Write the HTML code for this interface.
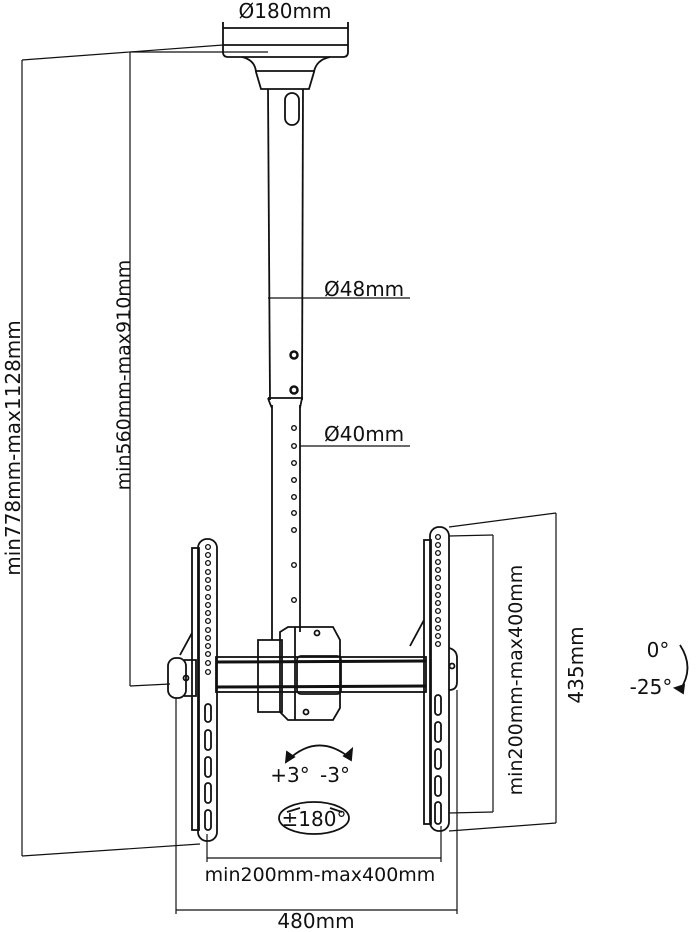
<!DOCTYPE html>
<html><head><meta charset="utf-8"><style>
html,body{margin:0;padding:0;background:#fff;}
svg{display:block;}
text{font-family:"DejaVu Sans","Liberation Sans",sans-serif;fill:#111;}
</style></head><body>
<svg width="697" height="932" viewBox="0 0 697 932" xmlns="http://www.w3.org/2000/svg">
<g fill="none" stroke="#111" stroke-width="1.8">
<!-- ceiling plate -->
<path d="M223 22 V52 Q223 57 228 57 H343 Q348 57 348 52 V22"/>
<line x1="223" y1="28" x2="348" y2="28"/>
<line x1="223" y1="45" x2="348" y2="45"/>
<path d="M242 57 Q255 60 256 72 L261 89 H309 L314 72 Q316 60 330 57"/>
<line x1="256" y1="71" x2="315" y2="71"/>
<!-- upper tube -->
<line x1="268" y1="89" x2="270" y2="400"/>
<line x1="303" y1="89" x2="302" y2="400"/>
<rect x="285" y="93" width="14" height="32" rx="7"/>
<path d="M268 398 Q270 404 272 408 M302 398 L300 408"/>
<line x1="268" y1="398" x2="303" y2="398"/>
<circle cx="294" cy="355" r="3.5" stroke-width="2.5"/><circle cx="294" cy="390" r="3.5" stroke-width="2.5"/>
<!-- lower tube -->
<line x1="272" y1="405" x2="272" y2="640"/>
<line x1="300" y1="405" x2="300" y2="632"/>
<g stroke-width="1.4">
<circle cx="294" cy="428" r="2.3"/><circle cx="294" cy="446" r="2.3"/><circle cx="294" cy="463" r="2.3"/>
<circle cx="294" cy="480" r="2.3"/><circle cx="294" cy="497" r="2.3"/><circle cx="294" cy="513" r="2.3"/>
<circle cx="294" cy="530" r="2.3"/><circle cx="294" cy="565" r="2.3"/><circle cx="294" cy="600" r="2.3"/>
</g>
<!-- crossbar -->
<rect x="216" y="657" width="210" height="35"/>
<line x1="216" y1="662" x2="426" y2="661" stroke-width="3"/>
<line x1="216" y1="687" x2="426" y2="686" stroke-width="3"/>
<!-- clamp -->
<path d="M258 640 H282 V712 H258 Z"/>
<path d="M280 632 L288 627 H333 L340 640 V708 L333 720 H288 L280 712 Z"/>
<line x1="295" y1="627" x2="295" y2="720"/>
<rect x="297" y="656" width="44" height="38" rx="4"/>
<circle cx="317" cy="633" r="2.5"/><circle cx="306" cy="712" r="2.5"/>
<!-- left bracket -->
<rect x="192" y="548" width="7" height="282"/>
<rect x="198" y="539" width="19" height="302" rx="9"/>
<g stroke-width="1.3">
<circle cx="208" cy="547" r="2.4"/><circle cx="208" cy="555" r="2.4"/><circle cx="208" cy="563" r="2.4"/><circle cx="208" cy="572" r="2.4"/><circle cx="208" cy="580" r="2.4"/><circle cx="208" cy="588" r="2.4"/><circle cx="208" cy="597" r="2.4"/><circle cx="208" cy="605" r="2.4"/><circle cx="208" cy="613" r="2.4"/><circle cx="208" cy="621" r="2.4"/><circle cx="208" cy="630" r="2.4"/><circle cx="208" cy="638" r="2.4"/><circle cx="208" cy="646" r="2.4"/><circle cx="208" cy="654" r="2.4"/><circle cx="208" cy="663" r="2.4"/><circle cx="208" cy="672" r="2.4"/>
</g>
<rect x="205" y="704" width="6" height="18" rx="3"/><rect x="205" y="730" width="6" height="20" rx="3"/><rect x="205" y="757" width="6" height="20" rx="3"/><rect x="205" y="783" width="6" height="20" rx="3"/><rect x="205" y="810" width="6" height="20" rx="3"/>
<path d="M192 633 L180 655"/>
<rect x="168" y="658" width="18" height="40" rx="8"/>
<path d="M184 660 H196 V696 H184"/>
<circle cx="186" cy="678" r="2.5"/>
<!-- right bracket -->
<rect x="424" y="540" width="7" height="284"/>
<rect x="430" y="527" width="19" height="304" rx="9"/>
<g stroke-width="1.3">
<circle cx="438" cy="537" r="2.4"/><circle cx="438" cy="545" r="2.4"/><circle cx="438" cy="553" r="2.4"/><circle cx="438" cy="562" r="2.4"/><circle cx="438" cy="570" r="2.4"/><circle cx="438" cy="578" r="2.4"/><circle cx="438" cy="587" r="2.4"/><circle cx="438" cy="595" r="2.4"/><circle cx="438" cy="603" r="2.4"/><circle cx="438" cy="611" r="2.4"/><circle cx="438" cy="620" r="2.4"/><circle cx="438" cy="628" r="2.4"/><circle cx="438" cy="636" r="2.4"/><circle cx="438" cy="644" r="2.4"/>
</g>
<rect x="435" y="695" width="6" height="20" rx="3"/><rect x="435" y="722" width="6" height="20" rx="3"/><rect x="435" y="749" width="6" height="20" rx="3"/><rect x="435" y="776" width="6" height="20" rx="3"/><rect x="435" y="802" width="6" height="22" rx="3"/>
<path d="M424 620 L410 646"/>
<path d="M449 648 Q457 650 457 658 V682 Q457 690 449 690"/>
<circle cx="452" cy="666" r="2.5"/>
<!-- dimension lines -->
<g stroke-width="1.2">
<line x1="22" y1="60" x2="223" y2="45"/>
<line x1="22" y1="60" x2="22" y2="856"/>
<line x1="22" y1="856" x2="200" y2="844"/>
<line x1="130" y1="52" x2="268" y2="52"/>
<line x1="130" y1="52" x2="130" y2="686"/>
<line x1="130" y1="686" x2="170" y2="684"/>
<line x1="268" y1="298" x2="410" y2="298"/>
<line x1="300" y1="446" x2="410" y2="446"/>
<line x1="449" y1="536" x2="493" y2="535"/>
<line x1="493" y1="535" x2="493" y2="812"/>
<line x1="449" y1="813" x2="493" y2="812"/>
<line x1="449" y1="527" x2="556" y2="513"/>
<line x1="556" y1="513" x2="556" y2="823"/>
<line x1="449" y1="831" x2="556" y2="823"/>
<line x1="207" y1="834" x2="207" y2="862"/>
<line x1="441" y1="826" x2="441" y2="862"/>
<line x1="207" y1="858" x2="441" y2="858"/>
<line x1="176" y1="698" x2="176" y2="914"/>
<line x1="457" y1="690" x2="457" y2="914"/>
<line x1="176" y1="910" x2="457" y2="910"/>
<line x1="223" y1="22" x2="223" y2="30"/><line x1="348" y1="22" x2="348" y2="30"/>
</g>
<!-- rotation arcs -->
<path d="M288 760 Q318 732 350 758"/>
<path d="M287 752 L286 762 L294 757 Z" fill="#111"/>
<path d="M352 749 L351 760 L344 756 Z" fill="#111"/>
<ellipse cx="314" cy="818" rx="35" ry="16"/>
<path d="M287 812 L300 808 M330 808 L342 812"/>
<path d="M680 645 Q695 668 680 690"/>
<path d="M675 688 L683 693 L684 685 Z" fill="#111"/>
</g>
<g font-size="20">
<text x="285" y="18" text-anchor="middle">Ø180mm</text>
<text x="324" y="296">Ø48mm</text>
<text x="324" y="441">Ø40mm</text>
<text transform="translate(20,448) rotate(-90)" text-anchor="middle">min778mm-max1128mm</text>
<text transform="translate(130,375) rotate(-90)" text-anchor="middle" font-size="19">min560mm-max910mm</text>
<text transform="translate(522,680) rotate(-90)" text-anchor="middle" font-size="19">min200mm-max400mm</text>
<text transform="translate(583,665) rotate(-90)" text-anchor="middle">435mm</text>
<text x="320" y="881" text-anchor="middle" font-size="19">min200mm-max400mm</text>
<text x="316" y="928" text-anchor="middle">480mm</text>
<text x="290" y="782" text-anchor="middle">+3°</text>
<text x="335" y="782" text-anchor="middle">-3°</text>
<text x="314" y="826" text-anchor="middle">±180°</text>
<text x="658" y="657" text-anchor="middle">0°</text>
<text x="651" y="694" text-anchor="middle">-25°</text>
</g>
</svg>
</body></html>
